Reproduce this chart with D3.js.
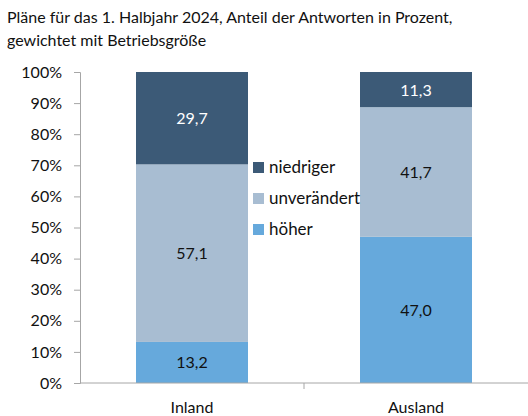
<!DOCTYPE html>
<html>
<head>
<meta charset="utf-8">
<script src="https://cdn.jsdelivr.net/npm/d3@7"></script>
<style>
  body { margin: 0; background: #fff; }
  text { font-family: Lato, "Open Sans", sans-serif; }
</style>
</head>
<body>
<div id="chart"></div>
<script>
// Daten
const categories = ["Inland", "Ausland"];
const seriesNames = ["höher", "unverändert", "niedriger"];
const hoeher = [13.2, 47.0];
const unveraendert = [57.1, 41.7];
const niedriger = [29.7, 11.3];
const yTicks = [0, 10, 20, 30, 40, 50, 60, 70, 80, 90, 100];
const titleLines = ["Pläne für das 1. Halbjahr 2024, Anteil der Antworten in Prozent,", "gewichtet mit Betriebsgröße"];

const colors = {"höher": "#66a9dc", "unverändert": "#a8bdd2", "niedriger": "#3c5a77"};
const labelColors = {"höher": "#111", "unverändert": "#111", "niedriger": "#fff"};

const width = 528, height = 416;
const margin = {top: 72, right: 0, bottom: 33, left: 80};

const svg = d3.select("#chart").append("svg")
    .attr("width", width)
    .attr("height", height);

// タイトル
svg.append("g").selectAll("text")
    .data(titleLines)
    .enter()
    .append("text")
    .attr("x", 7)
    .attr("y", (d, i) => 23 + i * 23)
    .attr("font-size", "16px")
    .attr("fill", "#111")
    .text(d => d);

const table = categories.map((c, i) => ({
    cat: c,
    "höher": hoeher[i],
    "unverändert": unveraendert[i],
    "niedriger": niedriger[i]
}));
const stacked = d3.stack().keys(seriesNames)(table);

const x = d3.scaleBand()
    .domain(categories)
    .range([margin.left, width - margin.right])
    .paddingInner(0.5)
    .paddingOuter(0.25);

const y = d3.scaleLinear()
    .domain([0, 100])
    .range([height - margin.bottom, margin.top]);

// Balken
const layers = svg.append("g").selectAll("g")
    .data(stacked)
    .enter()
    .append("g")
    .attr("fill", d => colors[d.key]);

layers.selectAll("rect")
    .data(d => d.map(v => Object.assign(v, {key: d.key})))
    .enter()
    .append("rect")
    .attr("x", d => x(d.data.cat))
    .attr("width", x.bandwidth())
    .attr("y", d => y(d[1]))
    .attr("height", d => y(d[0]) - y(d[1]));

// Werte
layers.selectAll("text")
    .data(d => d)
    .enter()
    .append("text")
    .attr("x", d => x(d.data.cat) + x.bandwidth() / 2)
    .attr("y", d => (y(d[0]) + y(d[1])) / 2 + 6)
    .attr("text-anchor", "middle")
    .attr("font-size", "16px")
    .attr("fill", d => labelColors[d.key])
    .text(d => d3.format(".1f")(d[1] - d[0]).replace(".", ","));

// y-Achse
const yAxis = svg.append("g")
    .attr("transform", `translate(${margin.left},0)`)
    .call(d3.axisLeft(y).tickValues(yTicks).tickSize(6).tickPadding(12).tickFormat(d => d + "%"));
yAxis.selectAll("path, line").attr("stroke", "#a6a6a6");
yAxis.selectAll("text").attr("font-size", "16px").attr("fill", "#111").attr("font-family", "Lato, sans-serif");

// x-Achse
const xAxisG = svg.append("g")
    .attr("transform", `translate(0,${height - margin.bottom})`);
xAxisG.append("line")
    .attr("x1", margin.left).attr("x2", width)
    .attr("stroke", "#a6a6a6");
xAxisG.selectAll("line.tick")
    .data([margin.left + (width - margin.left) / 2])
    .enter()
    .append("line")
    .attr("class", "tick")
    .attr("x1", d => d).attr("x2", d => d)
    .attr("y1", 0).attr("y2", 6)
    .attr("stroke", "#a6a6a6");
xAxisG.selectAll("text")
    .data(categories)
    .enter()
    .append("text")
    .attr("x", d => x(d) + x.bandwidth() / 2)
    .attr("y", 30)
    .attr("text-anchor", "middle")
    .attr("font-size", "16px")
    .attr("fill", "#111")
    .text(d => d);

// Legende
const legendNames = seriesNames.slice().reverse();
const legend = svg.append("g").selectAll("g")
    .data(legendNames)
    .enter()
    .append("g")
    .attr("transform", (d, i) => `translate(253,${162 + i * 31})`);
legend.append("rect")
    .attr("width", 11).attr("height", 11)
    .attr("fill", d => colors[d]);
legend.append("text")
    .attr("x", 16)
    .attr("y", 11)
    .attr("font-size", "17px")
    .attr("fill", "#111")
    .text(d => d);
</script>
</body>
</html>
